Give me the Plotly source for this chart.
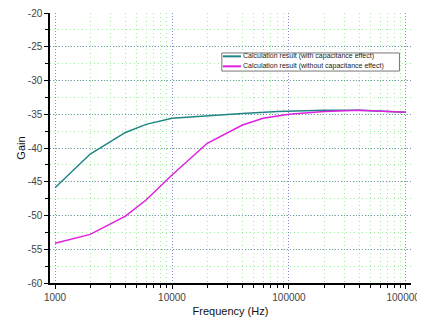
import plotly.graph_objects as go

freq = [1000, 2000, 4000, 6000, 10000, 20000, 40000, 80000, 200000, 400000, 1000000]
gain_with = [-45.9, -40.9, -37.7, -36.5, -35.6, -35.2, -34.9, -34.6, -34.4, -34.4, -34.7]
freq_wo = [1000, 2000, 4000, 6000, 10000, 20000, 40000, 60000, 100000, 200000, 400000, 1000000]
gain_wo = [-54.1, -52.8, -50.1, -47.7, -44.0, -39.3, -36.6, -35.6, -35.0, -34.6, -34.4, -34.7]

names = ["Calculation result (with capacitance effect)",
         "Calculation result (without capacitance effect)"]
colors = ["#1f8585", "#e020e0"]

x_ticks = [1000, 10000, 100000, 1000000]
x_ticktext = ["1000", "10000", "100000", "1000000"]
x_minor = [m * d for d in (1000, 10000, 100000) for m in range(2, 10)]
y_ticks = [-60, -55, -50, -45, -40, -35, -30, -25, -20]
y_ticktext = ["-60", "-55", "-50", "-45", "-40", "-35", "-30", "-25", "-20"]

fig = go.Figure()
fig.add_trace(go.Scatter(x=freq, y=gain_with, mode="lines", name=names[0],
                         line=dict(color=colors[0], width=1.5)))
fig.add_trace(go.Scatter(x=freq_wo, y=gain_wo, mode="lines", name=names[1],
                         line=dict(color=colors[1], width=1.5)))

# custom compact legend (paper coordinates)
lx0, lx1, ly0, ly1 = 0.476, 0.968, 0.785, 0.852
fig.add_shape(type="rect", xref="paper", yref="paper", x0=lx0, x1=lx1, y0=ly0, y1=ly1,
              line=dict(color="#777", width=1), fillcolor="white", layer="above")
for i, (nm, c) in enumerate(zip(names, colors)):
    yy = ly1 - 0.0125 - i * 0.037
    fig.add_shape(type="line", xref="paper", yref="paper", x0=lx0 + 0.003, x1=lx0 + 0.053,
                  y0=yy, y1=yy, line=dict(color=c, width=2), layer="above")
    fig.add_annotation(xref="paper", yref="paper", x=lx0 + 0.053, y=yy, text=nm,
                       showarrow=False, xanchor="left", yanchor="middle",
                       font=dict(size=7, color="#222"))

grid_major = dict(showgrid=True, gridcolor="#8c8cd0", griddash="1px,2px", gridwidth=1)
grid_minor = dict(showgrid=True, gridcolor="#a4eaa4", griddash="1px,3px", gridwidth=1)

fig.update_layout(
    width=425, height=324,
    margin=dict(l=42, r=22, t=5, b=49),
    paper_bgcolor="white", plot_bgcolor="white",
    font=dict(family="Liberation Sans, Arial, sans-serif", color="#333"),
    showlegend=False,
    xaxis=dict(
        type="log", range=[2.957, 6.043], automargin=False,
        tickvals=x_ticks, ticktext=x_ticktext, ticklabeloverflow="allow",
        tickfont=dict(size=10, color="#444"),
        ticks="outside", ticklen=4, tickcolor="#000",
        showline=True, linecolor="#000", linewidth=1.5,
        zeroline=False, **grid_major,
        minor=dict(tickvals=x_minor, ticks="outside", ticklen=3, tickcolor="#000", **grid_minor),
        title=dict(text="Frequency (Hz)", font=dict(size=11, color="#111"), standoff=6),
    ),
    yaxis=dict(
        range=[-60, -20], automargin=False,
        tickvals=y_ticks, ticktext=y_ticktext, ticklabeloverflow="allow",
        tickfont=dict(size=10, color="#444"),
        ticks="outside", ticklen=4, tickcolor="#000",
        showline=True, linecolor="#000", linewidth=1.5,
        zeroline=False, **grid_major,
        minor=dict(dtick=2.5, ticks="outside", ticklen=3, tickcolor="#000", **grid_minor),
        title=dict(text="Gain", font=dict(size=11, color="#111"), standoff=0),
    ),
)

fig.write_html("out.html")
